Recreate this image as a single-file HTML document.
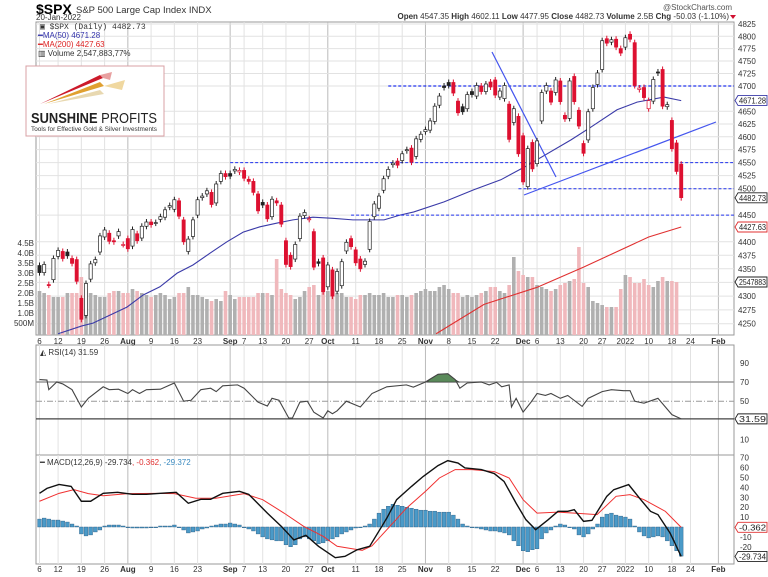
<!DOCTYPE html>
<html><head><meta charset="utf-8"><style>
body{margin:0;background:#fff;width:768px;height:577px;overflow:hidden;font-family:"Liberation Sans",sans-serif}
svg{display:block}
</style></head><body>
<svg id="chart" width="768" height="577" xmlns="http://www.w3.org/2000/svg" font-family="Liberation Sans, sans-serif">
<text x="36" y="14" font-size="14" font-weight="bold">$SPX</text>
<text x="76" y="13" font-size="9.5" fill="#333">S&amp;P 500 Large Cap Index INDX</text>
<text x="36" y="20" font-size="8" fill="#333">20-Jan-2022</text>
<text x="732" y="10" font-size="8" fill="#555" text-anchor="end">@StockCharts.com</text>
<text x="729" y="19" font-size="8" text-anchor="end" fill="#333"><tspan font-weight="bold">Open</tspan> 4547.35 <tspan font-weight="bold">High</tspan> 4602.11 <tspan font-weight="bold">Low</tspan> 4477.95 <tspan font-weight="bold">Close</tspan> 4482.73 <tspan font-weight="bold">Volume</tspan> 2.5B <tspan font-weight="bold">Chg</tspan> -50.03 (-1.10%)</text>
<polygon points="730,15 736,15 733,19" fill="#d01030"/>
<g id="grid"></g>
<g id="vol"></g>
<g id="lines"></g>
<g id="candles"></g>
<g id="panels"></g>
<g font-size="8">
<text x="40" y="29" font-family="Liberation Mono, monospace" fill="#333">▣ $SPX (Daily) 4482.73</text>
<text x="38" y="38" fill="#3333aa">━MA(50) 4671.28</text>
<text x="38" y="47" fill="#dd2222">━MA(200) 4427.63</text>
<text x="38" y="56" fill="#333">▥ Volume 2,547,883,77%</text>
</g>
<g>
<rect x="26" y="66" width="138" height="70" fill="#fff" stroke="#d8a0a4" stroke-width="1"/>
<polygon points="40,104 100,75 103,78" fill="#cc1a2a"/>
<polygon points="100,75 112,72 110,80 103,78" fill="#e8a0a0"/>
<polygon points="44,104 100,82 104,86" fill="#e0a030"/>
<polygon points="104,86 125,80 122,90" fill="#f0d8a0"/>
<polygon points="48,104 100,90 104,94" fill="#e8d8b0"/>
<text x="31" y="123" font-size="15" font-weight="bold" fill="#222" textLength="126" lengthAdjust="spacingAndGlyphs">SUNSHINE <tspan font-weight="normal">PROFITS</tspan></text>
<text x="31" y="131" font-size="6" fill="#333" textLength="126" lengthAdjust="spacingAndGlyphs">Tools for Effective Gold &amp; Silver Investments</text>
</g>
</svg>
<script>
const closes=[4343,4358,4320,4369,4384,4369,4374,4360,4327,4258,
4323,4359,4367,4411,4422,4401,4400,4419,4395,4387,
4423,4402,4429,4437,4432,4436,4447,4460,4468,4479,
4448,4400,4405,4441,4479,4486,4496,4470,4509,4529,
4523,4524,4537,4535,4520,4514,4493,4458,4469,4443,
4480,4473,4433,4358,4354,4395,4448,4455,4443,4353,
4360,4308,4357,4300,4345,4363,4399,4391,4361,4350,
4364,4438,4471,4486,4519,4537,4549,4545,4567,4575,
4551,4596,4605,4614,4631,4660,4680,4697,4701,4686,
4647,4649,4683,4683,4701,4689,4704,4698,4682,4690,
4701,4595,4655,4567,4513,4577,4538,4592,4687,4701,
4668,4712,4669,4635,4710,4669,4621,4568,4649,4697,
4726,4791,4786,4793,4778,4766,4797,4794,4701,4696,
4677,4671,4713,4726,4660,4663,4577,4533,4483];
const opens=[4356,4343,4321,4330,4373,4382,4381,4369,4367,4296,
4265,4331,4361,4381,4409,4416,4402,4411,4395,4406,
4392,4415,4407,4429,4437,4435,4442,4446,4465,4461,
4477,4441,4382,4410,4450,4483,4490,4493,4473,4514,
4529,4529,4534,4532,4535,4518,4514,4490,4474,4469,
4447,4477,4469,4402,4375,4368,4406,4449,4442,4419,
4363,4370,4317,4348,4309,4319,4383,4406,4385,4368,
4358,4386,4447,4463,4497,4524,4546,4553,4554,4573,
4578,4562,4595,4610,4613,4630,4662,4700,4707,4707,
4670,4659,4655,4689,4680,4700,4689,4708,4712,4678,
4675,4664,4628,4640,4602,4504,4589,4548,4631,4690,
4690,4687,4710,4642,4636,4719,4652,4587,4594,4655,
4703,4733,4795,4788,4794,4775,4778,4804,4787,4693,
4697,4655,4670,4728,4733,4659,4632,4588,4547];
const volumes=[2.1,2.0,1.9,1.8,1.8,1.8,2.0,2.0,2.0,
2.8,2.2,2.0,1.9,1.8,1.8,2.0,2.1,2.1,2.0,
2.0,2.2,2.1,2.0,1.9,1.8,1.9,2.0,1.9,1.7,
1.8,2.0,2.0,2.3,1.9,1.9,1.8,1.7,1.6,1.7,
1.6,2.1,1.9,1.7,1.8,1.8,1.8,1.8,2.0,2.0,
2.0,1.9,3.7,2.2,2.0,1.9,1.7,1.8,2.1,2.3,
2.4,1.9,2.3,2.1,2.1,2.0,2.0,1.8,1.8,1.7,
1.9,1.9,2.0,1.9,1.9,2.0,1.8,1.8,1.9,1.9,
1.8,1.9,2.0,2.1,2.2,2.1,2.1,2.3,2.4,2.2,
2.0,2.0,1.8,1.9,1.8,1.9,2.0,2.1,2.3,2.3,
2.1,2.0,2.4,3.8,3.1,2.9,2.8,2.8,2.4,2.3,
2.2,2.1,2.2,2.4,2.5,2.6,2.7,4.3,2.5,2.3,
1.6,1.5,1.4,1.3,1.3,1.3,2.2,2.9,2.8,2.5,
2.5,2.7,2.4,2.3,2.6,2.8,2.6,2.6,2.55];
const ma50Idx=[4,9.1,11.5,18.8,22.3,25.9,29.6,33,36.7,40.3,43.8,47.4,51.1,54.5,58.8,63.1,67.4,71.1,74.1,77.5,80.5,87,93.4,99.2,104.2,114.3,118.6,124.2,128.5,134.3,138];
const ma50Vals=[4232,4246,4251,4280,4302,4317,4342,4357,4379,4400,4418,4428,4435,4441,4446,4444,4441,4441,4441,4450,4456,4475,4498,4517,4541,4594,4619,4653,4668,4678,4671];
const ma200Idx=[85.3,95.6,107,117,131,138];
const ma200Vals=[4232,4285,4316,4353,4409,4427.6];
const rsiIdx=[0,1.6,2,3.7,5,7,9,10.5,13.7,15,17,19,20,21.5,23,26,29,31,32.6,34.7,36.8,38,39.4,42.6,44,47,49,50,51.5,53.6,54.4,56,57.6,59,61,62,63,64,66,69,71.5,74.7,78.9,80.4,83,84,85.7,87.8,89.4,90.4,92,95,96.7,98.3,99.4,101,101.5,102.5,104,105.7,107,108.8,110,112,113.6,116.7,118,121,123,125.6,127,128,130,133,134.6,136,138];
const rsiVals=[72.5,72,62,70,68,62,44,53,65,62,62.5,58,62,58,62,62.5,69,50,51,62,63.5,60,66,67,63.5,49,45,53,51,32.5,32.5,49,50,38.5,32.5,40,37,40,50,44,58,65,67,64.6,70,73,78,78.6,72.5,63.6,69,70,67,69.6,65,67,44,53,38.6,49,58,56,58,53,56,44.6,53,60,62,61,61,50,48,53,44,36,31.59];
const macdIdx=[0,1.6,4.2,6.8,9,11,13.7,16.8,20,23,26,29.4,32,34.7,36.8,39.4,43,45,49,52,54.7,57.3,60,63.6,65.7,68.3,71,74.7,76.8,80,82.5,85.7,87.8,90,91.5,95,97.8,99.9,102.5,104.6,106.7,109.4,111.5,113.6,115,117,118.8,122,123.5,126.7,129.3,131.4,133,135.6,138];
const macdVals=[34,39,43,41,26,26,34,35,33,33,34,35,24,28,28,34,36,33,14,0.7,-13,-8.4,-19.5,-31,-29.6,-23,-19.5,9,27.6,41,51,62,67,64.6,59.6,58,54,46,24,7.4,-2.7,7.4,15.8,15.8,17.5,5.7,6.7,31,37.7,42.8,27.6,15.8,12.5,-6,-29.734];
const sigIdx=[0,4.2,7.4,10.5,13.7,19,25,29,33.6,37.9,44,48,52.6,56.8,61,64,69.4,71.5,74.7,78.9,83,86,89.4,93,97.8,101,104,107,111.5,115,119.9,124,127,130,134.6,138];
const sigVals=[26,34,37.7,33.7,31.6,33.7,34,33.7,29,29,33.7,27.6,14,0.7,-9.4,-19.5,-23.6,-19,-2.7,19,36,49.5,58,58,56,49.5,27.6,14,15,14,12.5,31,32.7,27.6,15.8,-0.362];
const histVals=[8,9,8,7,7,6,5,3,1,
-7,-9,-8,-5,-3,
1,2,2,2,1,0,-1,-1,-1,
-1,0,0,1,1,1,2,0,
-3,-6,-5,-4,-2,-1,
1,2,3,3,4,3,2,0,
-2,-4,-7,-10,-12,-13,-14,-14,
-18,-20,-18,-12,-10,-12,
-14,-17,-16,-14,-12,-10,
-7,-5,-3,-1,0,1,
3,8,14,18,21,23,22,21,20,19,
18,17,17,16,16,15,15,15,12,8,
3,1,0,-1,-2,-3,-4,-4,-5,-6,
-8,-14,-19,-24,-25,-23,-22,-12,
-6,-3,1,3,2,0,-2,-8,-10,-7,
-2,3,10,13,14,12,11,10,
8,1,-5,-9,-11,-10,-9,-10,-14,-19,-24,-29.4];
const dateLabels=["6","12","19","26","Aug","9","16","23","Sep","7","13","20","27","Oct","11","18","25","Nov","8","15","22","Dec","6","13","20","27","2022","10","18","24","Feb"];
const dateIdx=[0,4,9,14,19,24,29,34,41,44,48,53,58,62,68,73,78,83,88,93,98,104,107,112,117,121,126,131,136,140,146];
const priceTicks=[4250,4275,4300,4325,4350,4375,4400,4450,4500,4525,4550,4575,4600,4625,4650,4700,4725,4750,4775,4800,4825];
const volTicks=[0.5,1,1.5,2,2.5,3,3.5,4,4.5];
const volTickLabels=["500M","1.0B","1.5B","2.0B","2.5B","3.0B","3.5B","4.0B","4.5B"];
const rsiTicks=[90,70,50,10];
const macdTicks=[70,60,50,40,30,20,10,-10,-20];
const hLevels=[4700,4550,4500,4450];
const hLevelStartIdx=[75,41,103,67];

const NS="http://www.w3.org/2000/svg";
const L=36,R=734,PT=22,PB=335,RT=345,RB=455,MT=455,MB=564;
const X=i=>39.5+i*4.65;
const PY=p=>86+(Math.log(4700)-Math.log(p))*2362;
const VY=v=>333-v*20;
const RY=r=>382+(70-r)*0.96;
const MY=m=>527-m*0.99;
function mk(tag,attrs,parent){const e=document.createElementNS(NS,tag);for(const k in attrs)e.setAttribute(k,attrs[k]);parent.appendChild(e);return e;}
const grid=document.getElementById('grid'),vol=document.getElementById('vol'),lines=document.getElementById('lines'),cg=document.getElementById('candles'),pn=document.getElementById('panels');

[[PT,PB],[RT,RB],[MT,MB]].forEach(([t,b],k)=>{
  const r=mk('rect',{x:L,y:t,width:R-L,height:b-t,fill:'none',stroke:'#999','stroke-width':1},grid);
  
  
  dateIdx.forEach((d,j)=>{
    const major=isNaN(+dateLabels[j]);
    const ln=mk('line',{x1:X(d),x2:X(d),y1:t,y2:b,stroke:major?'#bbb':'#e2e2e2','stroke-width':1},grid);
    
    
  });
});
[PB+9,MB+8].forEach((yy,k)=>{
  dateLabels.forEach((s,j)=>{
    const major=isNaN(+s);
    const t=mk('text',{x:X(dateIdx[j]),y:yy,'font-size':8,'text-anchor':'middle','font-weight':major?'bold':'normal',fill:'#333'},grid);
    t.textContent=s;
    
    
  });
});
priceTicks.forEach(p=>{
  const ln=mk('line',{x1:L,x2:R,y1:PY(p),y2:PY(p),stroke:'#e2e2e2'},grid);
  
  
  const t=mk('text',{x:738,y:PY(p)+3,'font-size':8,fill:'#333'},grid);
  t.textContent=p;
  
  
});
volTicks.forEach((v,j)=>{
  const t=mk('text',{x:34,y:VY(v)+3,'font-size':8,fill:'#333','text-anchor':'end'},grid);
  t.textContent=volTickLabels[j];
  
  
});
volumes.forEach((v,i)=>{
  const down=i>0&&closes[i]<closes[i-1];
  const b=mk('rect',{x:X(i)-1.8,y:VY(v),width:3.6,height:PB-VY(v),fill:down?'#f0b8bc':'#b0b0b0'},vol);
  
  
});
function poly(idx,vals,yf,attrs,name){
  const p=mk('polyline',Object.assign({points:idx.map((d,j)=>X(d)+','+yf(vals[j])).join(' '),fill:'none'},attrs),lines);
  
  
  return p;
}
poly(ma50Idx,ma50Vals,PY,{stroke:'#3a3aa8','stroke-width':1.1},'ma50-line');
poly(ma200Idx,ma200Vals,PY,{stroke:'#e03030','stroke-width':1.1},'ma200-line');
hLevels.forEach((h,j)=>{
  const ln=mk('line',{x1:X(hLevelStartIdx[j]),x2:R,y1:PY(h),y2:PY(h),stroke:'#2233ee','stroke-width':h==4700?1.3:1,'stroke-dasharray':'3,2'},lines);
  
  
});
const tl1=mk('line',{x1:492,y1:52,x2:556,y2:177,stroke:'#4455ee','stroke-width':1.2},lines);


const tl2=mk('line',{x1:524,y1:195,x2:716,y2:122,stroke:'#4455ee','stroke-width':1.2},lines);


closes.forEach((c,i)=>{
  const o=opens[i];
  const down=i>0&&c<closes[i-1];
  const col=down?'#dd1030':'#222';
  const top=PY(Math.max(o,c)),bot=PY(Math.min(o,c));
  const w=mk('line',{x1:X(i),x2:X(i),y1:top-3,y2:bot+3,stroke:col,'stroke-width':1},cg);
  
  
  const b=mk('rect',{x:X(i)-1.6,y:top,width:3.2,height:Math.max(1,bot-top),fill:c<o?col:'#fff',stroke:col,'stroke-width':0.7},cg);
  
  
});
// RSI
rsiTicks.forEach(r=>{
  const t=mk('text',{x:740,y:RY(r)+3,'font-size':8,fill:'#333'},pn);
  t.textContent=r;
  
  
});
const l70=mk('line',{x1:L,x2:R,y1:RY(70),y2:RY(70),stroke:'#999','stroke-width':1.5},pn);

const l50=mk('line',{x1:L,x2:R,y1:RY(50),y2:RY(50),stroke:'#999','stroke-dasharray':'6,2,1,2'},pn);

const l30=mk('line',{x1:L,x2:R,y1:RY(rsiVals[rsiVals.length-1]),y2:RY(rsiVals[rsiVals.length-1]),stroke:'#444','stroke-width':1.3},pn);

// overbought fill: contiguous segments above 70 that peak above 74
let segs=[],cur=[];
rsiIdx.forEach((d,j)=>{ if(rsiVals[j]>70){cur.push([d,rsiVals[j]]);} else {if(cur.length)segs.push(cur);cur=[];} });
if(cur.length)segs.push(cur);
segs.filter(s=>Math.max(...s.map(q=>q[1]))>74).forEach(ob=>{
  const pts=[X(ob[0][0]-0.6)+','+RY(70)].concat(ob.map(q=>X(q[0])+','+RY(q[1]))).concat([X(ob[ob.length-1][0]+0.8)+','+RY(70)]);
  const f=mk('polygon',{points:pts.join(' '),fill:'#5a8a5a',stroke:'#333','stroke-width':0.6},pn);
  
  
});
const rl=mk('polyline',{points:rsiIdx.map((d,j)=>X(d)+','+RY(rsiVals[j])).join(' '),fill:'none',stroke:'#444','stroke-width':1.1},pn);

const rt=mk('text',{x:40,y:RT+10,'font-size':8,fill:'#333'},pn);rt.textContent='◭ RSI(14) 31.59';

// MACD
macdTicks.forEach(m=>{
  const t=mk('text',{x:740,y:MY(m)+3,'font-size':8,fill:'#333'},pn);
  t.textContent=m;
  
  
});
histVals.forEach((h,i)=>{
  const y0=MY(0),y1=MY(h);
  const b=mk('rect',{x:X(i)-1.9,y:Math.min(y0,y1),width:3.8,height:Math.max(0.8,Math.abs(y1-y0)),fill:'#4a9ac8',stroke:'#2a5a80','stroke-width':0.4},pn);
  
  
});
const sl=mk('polyline',{points:sigIdx.map((d,j)=>X(d)+','+MY(sigVals[j])).join(' '),fill:'none',stroke:'#f03030','stroke-width':1},pn);

const ml=mk('polyline',{points:macdIdx.map((d,j)=>X(d)+','+MY(macdVals[j])).join(' '),fill:'none',stroke:'#111','stroke-width':1.4},pn);

const mt=mk('text',{x:40,y:MT+10,'font-size':8,fill:'#333'},pn);
mt.innerHTML='━ MACD(12,26,9) -29.734<tspan fill="#e03030">, -0.362</tspan><tspan fill="#3a8ac0">, -29.372</tspan>';

function box(y,txt,col,name){
  const g=mk('g',{},pn);
  
  
  mk('path',{d:`M735,${y} l3,-5 h29 v10 h-29 z`,fill:'#fff',stroke:col,'stroke-width':0.9},g);
  const t=mk('text',{x:739,y:y+3,'font-size':8,fill:'#222',textLength:27,lengthAdjust:'spacingAndGlyphs'},g);t.textContent=txt;
}
box(PY(4671.28),'4671.28','#3a3aa8','ma50-value-box');
box(PY(4482.73),'4482.73','#222','close-value-box');
box(PY(4427.63),'4427.63','#e03030','ma200-value-box');
box(VY(2.55),'2547883','#222','volume-value-box');
box(RY(31.59),'31.59','#222','rsi-value-box');
box(MY(-0.362),'-0.362','#e03030','signal-value-box');
box(MY(-29.734),'-29.734','#222','macd-value-box');
</script>
</body></html>
